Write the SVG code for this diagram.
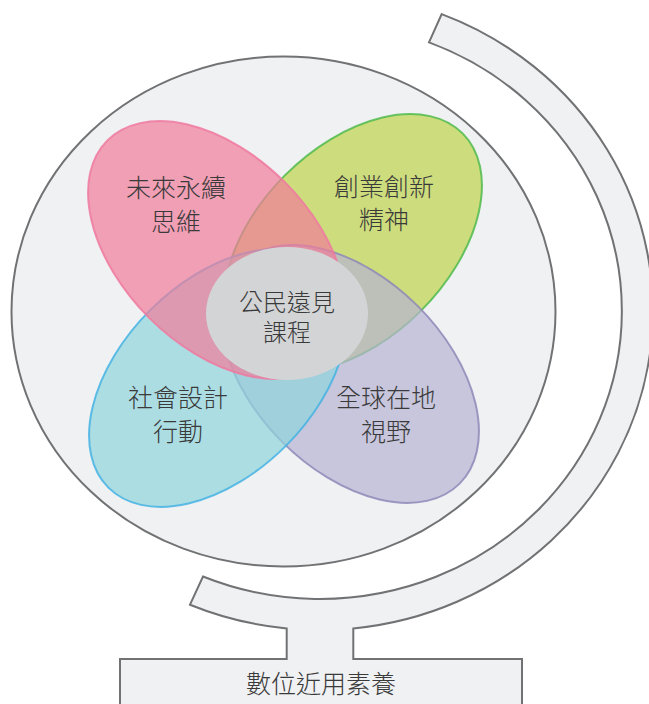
<svg xmlns="http://www.w3.org/2000/svg" width="649" height="704" viewBox="0 0 649 704">
<style>
.frame{fill:#f0f1f3;stroke:#717274;stroke-width:2}
.pet{fill-opacity:0.7;stroke-width:2}
.lbl{font-family:"Noto Sans CJK TC","Noto Sans CJK SC",sans-serif;font-size:25px;font-weight:300;fill:#3a3a3a;text-anchor:middle}
.sm{font-size:24px}
</style>
<rect width="649" height="704" fill="#ffffff"/>
<g id="stand">
<path class="frame" d="M 441.7 14.1 A 333 319 0 0 1 353.3 628.4 L 353.3 659 L 522 659 L 522 712 L 120 712 L 120 659 L 286.7 659 L 286.7 628.4 A 333 319 0 0 1 190 604.7 L 203 576.5 A 302 288 0 1 0 429 42.4 Z"/>
<text class="lbl" x="321" y="693">數位近用素養</text>
</g>
<g id="globe">
<ellipse class="frame" cx="283.5" cy="311.5" rx="272" ry="255"/>
</g>
<g id="green">
<ellipse class="pet" cx="353" cy="243" rx="155" ry="96" transform="rotate(-45 353 243)" fill="#bed34a" stroke="#4fbb4c" stroke-opacity="0.85"/>
<text class="lbl" x="384" y="196">創業創新</text>
<text class="lbl" x="384" y="229">精神</text>
</g>
<g id="purple">
<ellipse class="pet" cx="350" cy="374" rx="155" ry="96" transform="rotate(45 350 374)" fill="#b7b4d2" stroke="#8e89b8" stroke-opacity="0.85"/>
<text class="lbl" x="386" y="407">全球在地</text>
<text class="lbl" x="386" y="441">視野</text>
</g>
<g id="blue">
<ellipse class="pet" cx="218" cy="378" rx="155" ry="96" transform="rotate(-45 218 378)" fill="#8fd4dc" stroke="#45b3e3" stroke-opacity="0.85"/>
<text class="lbl" x="178" y="407">社會設計</text>
<text class="lbl" x="178" y="441">行動</text>
</g>
<g id="pink">
<ellipse class="pet" cx="217" cy="250" rx="155" ry="96" transform="rotate(45 217 250)" fill="#f17c9a" stroke="#ee7aa0" stroke-opacity="0.85"/>
<text class="lbl" x="176" y="197">未來永續</text>
<text class="lbl" x="176" y="231">思維</text>
</g>
<g id="center">
<ellipse cx="287" cy="313.5" rx="81" ry="66.5" fill="#d3d4d6"/>
<text class="lbl sm" x="287" y="311">公民遠見</text>
<text class="lbl sm" x="287" y="341">課程</text>
</g>
</svg>
